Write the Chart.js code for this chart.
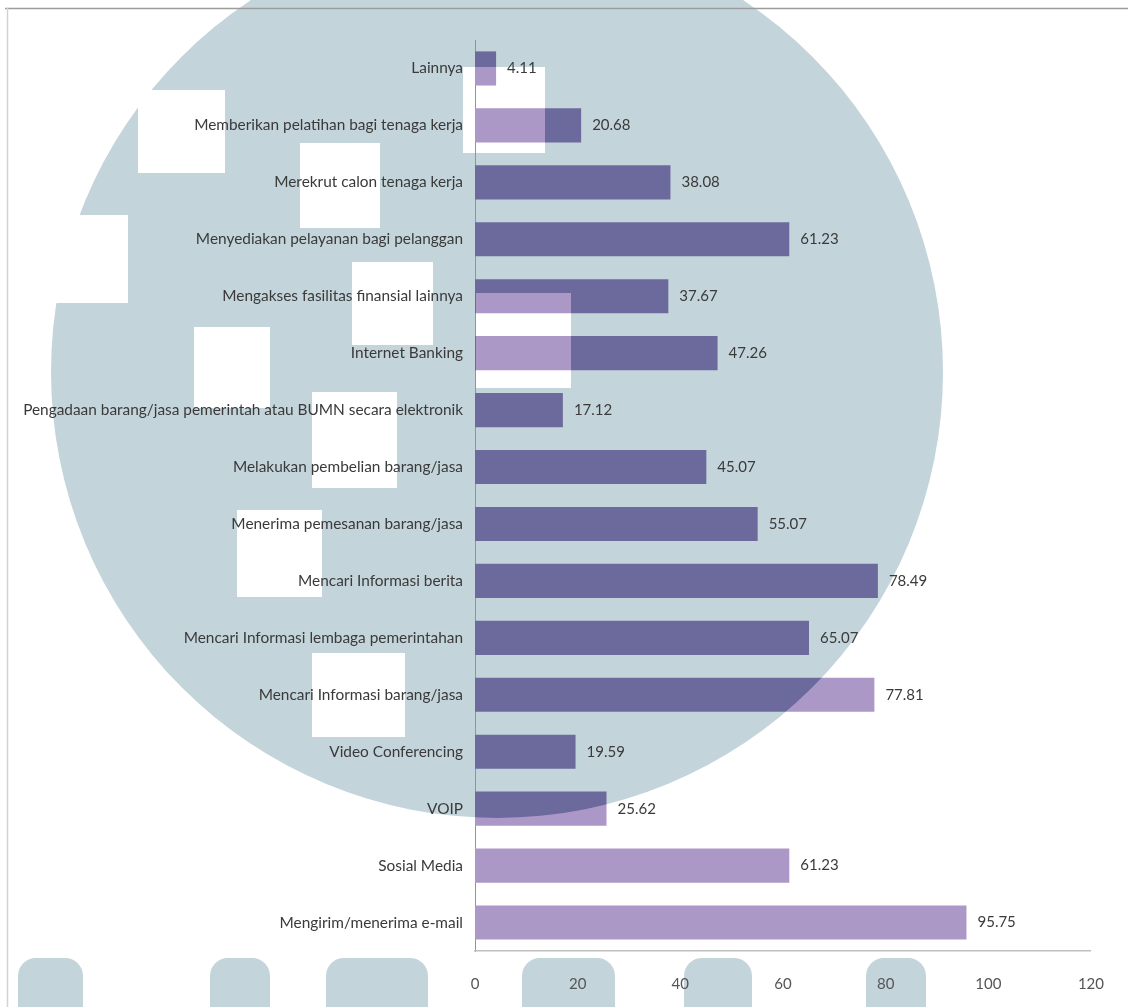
<!DOCTYPE html>
<html>
<head>
<meta charset="utf-8">
<script src="https://cdn.jsdelivr.net/npm/chart.js@4.4.1/dist/chart.umd.min.js"></script>
<style>
  html, body { margin: 0; padding: 0; background: #ffffff; }
  #wrap { width: 1128px; height: 1007px; position: relative; }
</style>
</head>
<body>
<div id="wrap"><canvas id="c" width="1128" height="1007"></canvas></div>
<script>
// ---- data ----
const categories = [
  "Lainnya",
  "Memberikan pelatihan bagi tenaga kerja",
  "Merekrut calon tenaga kerja",
  "Menyediakan pelayanan bagi pelanggan",
  "Mengakses fasilitas finansial lainnya",
  "Internet Banking",
  "Pengadaan barang/jasa pemerintah atau BUMN secara elektronik",
  "Melakukan pembelian barang/jasa",
  "Menerima pemesanan barang/jasa",
  "Mencari Informasi berita",
  "Mencari Informasi lembaga pemerintahan",
  "Mencari Informasi barang/jasa",
  "Video Conferencing",
  "VOIP",
  "Sosial Media",
  "Mengirim/menerima e-mail"
];
const values = [4.11, 20.68, 38.08, 61.23, 37.67, 47.26, 17.12, 45.07, 55.07, 78.49, 65.07, 77.81, 19.59, 25.62, 61.23, 95.75];
const xTickValues = [0, 20, 40, 60, 80, 100, 120];

// ---- styling ----
const W = 1128, H = 1007;
const FONT = "Lato";
const FONT_SIZE = 15.4;
const TEXT = "#3a3a3a";
const WM_GRAY = "rgb(196,212,219)";
const BAR_DARK = "#6c6a9c";
const BAR_LIGHT = "#ac98c6";

// watermark (background decoration)
const wmCircle = { cx: 497, cy: 372, r: 446 };
const wmHoles = [
  [0, 215, 128, 303],
  [138, 90, 225, 173],
  [300, 143, 380, 228],
  [352, 262, 433, 345],
  [194, 327, 270, 408],
  [312, 392, 397, 488],
  [476, 293, 571, 388],
  [463, 67, 545, 153],
  [237, 510, 322, 597],
  [312, 653, 405, 737]
];
const wmBlobs = [[18, 83], [210, 270], [326, 428], [522, 615], [684, 752], [866, 926]];

function watermarkPath(ctx) {
  ctx.beginPath();
  ctx.arc(wmCircle.cx, wmCircle.cy, wmCircle.r, 0, Math.PI * 2);
  for (const h of wmHoles) {
    ctx.moveTo(h[0], h[1]);
    ctx.lineTo(h[0], h[3]);
    ctx.lineTo(h[2], h[3]);
    ctx.lineTo(h[2], h[1]);
    ctx.closePath();
  }
}

function drawWatermark(ctx) {
  ctx.save();
  ctx.fillStyle = WM_GRAY;
  ctx.beginPath();
  ctx.arc(wmCircle.cx, wmCircle.cy, wmCircle.r, 0, Math.PI * 2);
  ctx.fill();
  ctx.fillStyle = "#ffffff";
  for (const h of wmHoles) ctx.fillRect(h[0], h[1], h[2] - h[0], h[3] - h[1]);
  ctx.fillStyle = WM_GRAY;
  for (const b of wmBlobs) {
    const w = b[1] - b[0];
    ctx.beginPath();
    ctx.roundRect(b[0], 958, w, 80, [Math.min(18, w / 3)]);
    ctx.fill();
  }
  ctx.strokeStyle = "#9c9c9c";
  ctx.lineWidth = 1.5;
  ctx.beginPath(); ctx.moveTo(5, 8.5); ctx.lineTo(W, 8.5); ctx.stroke();
  ctx.strokeStyle = "#d2d2d2";
  ctx.beginPath(); ctx.moveTo(7.5, 8); ctx.lineTo(7.5, H); ctx.stroke();
  ctx.restore();
}

function makeBarPattern(ctx) {
  const off = document.createElement("canvas");
  off.width = W; off.height = H;
  const o = off.getContext("2d");
  o.fillStyle = BAR_LIGHT;
  o.fillRect(0, 0, W, H);
  o.save();
  watermarkPath(o);
  o.clip("evenodd");
  o.fillStyle = BAR_DARK;
  o.fillRect(0, 0, W, H);
  o.restore();
  return ctx.createPattern(off, "no-repeat");
}

const canvas = document.getElementById("c");
const ctx0 = canvas.getContext("2d");
const barPattern = makeBarPattern(ctx0);

const backgroundPlugin = {
  id: "bg",
  beforeDraw(chart) { drawWatermark(chart.ctx); }
};

const valueLabelPlugin = {
  id: "valueLabels",
  afterDatasetsDraw(chart) {
    const ctx = chart.ctx;
    const meta = chart.getDatasetMeta(0);
    ctx.save();
    ctx.fillStyle = TEXT;
    ctx.font = "15px " + FONT;
    ctx.textAlign = "left";
    ctx.textBaseline = "middle";
    meta.data.forEach((bar, i) => {
      ctx.fillText(values[i].toFixed(2), bar.x + 11, bar.y);
    });
    ctx.restore();
  }
};

new Chart(canvas, {
  type: "bar",
  data: {
    labels: categories,
    datasets: [{
      data: values,
      backgroundColor: barPattern,
      borderWidth: 0,
      barPercentage: 0.6,
      categoryPercentage: 1.0
    }]
  },
  options: {
    indexAxis: "y",
    responsive: false,
    devicePixelRatio: 1,
    animation: false,
    layout: { padding: { top: 40, right: 31, bottom: 0, left: 0 } },
    plugins: { legend: { display: false }, tooltip: { enabled: false } },
    scales: {
      y: {
        type: "category",
        grid: { display: false, drawTicks: false },
        border: { display: true, color: "#8d969b", width: 1 },
        ticks: { color: TEXT, font: { family: FONT, size: FONT_SIZE }, padding: 12, autoSkip: false },
        afterFit(s) { s.width = 475; }
      },
      x: {
        min: 0, max: 120,
        afterBuildTicks(s) { s.ticks = xTickValues.map(v => ({ value: v })); },
        grid: { display: false, drawTicks: false },
        border: { display: true, color: "#bfbfbf", width: 1.5 },
        ticks: { color: "#555555", font: { family: FONT, size: 15 }, padding: 24 },
        afterFit(s) { s.height = 56; }
      }
    }
  },
  plugins: [backgroundPlugin, valueLabelPlugin]
});
</script>
</body>
</html>
